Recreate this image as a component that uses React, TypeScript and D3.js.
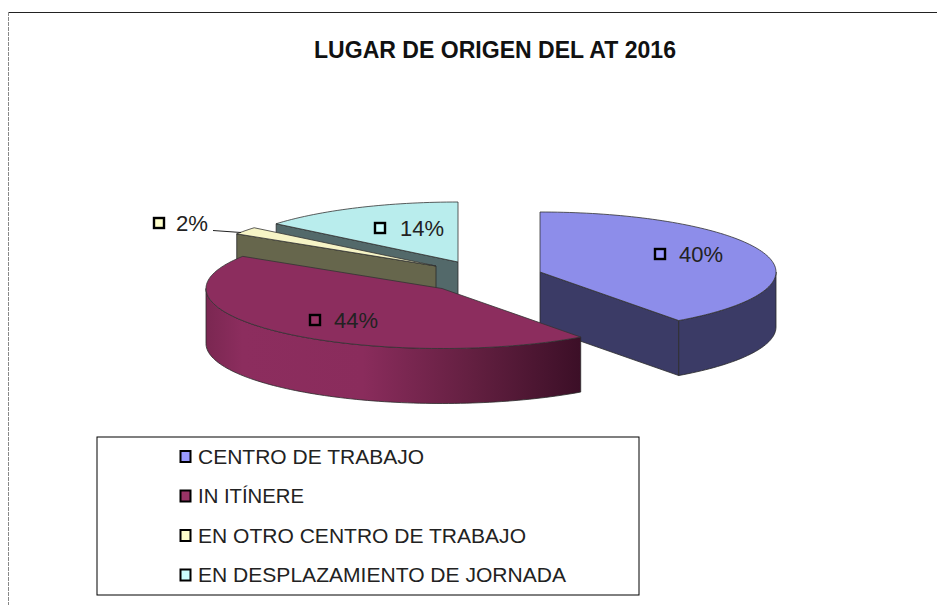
import React from "react";
import * as d3 from "d3";

const categories = ["CENTRO DE TRABAJO", "IN ITÍNERE", "EN OTRO CENTRO DE TRABAJO", "EN DESPLAZAMIENTO DE JORNADA"];
const values = [40, 44, 2, 14];
const labels = ["40%", "44%", "2%", "14%"];
const legendColors = ["#9999ff", "#993366", "#ffffcc", "#ccffff"];
const topColors = ["#8d8dea", "#8c2d5e", "#f6f4c6", "#b9eded"];
const sideColors = ["#3b3b66", "url(#redSide)", "#66664c", "#53696a"];
const title = "LUGAR DE ORIGEN DEL AT 2016";

const RX = 236, RY = 60, DEPTH = 55;
const centers: [number, number][] = [[540, 272], [442, 288.5], [436, 266], [458, 262]];
const labelPos: [number, number][] = [[660, 254], [315, 320], [159, 223], [380, 228]];
const labelTextX = [679, 334, 176, 400];
const legendTextLen = [226, 106, 328, 368];
const drawOrder = [3, 2, 0, 1];
const legendRowY = d3.scaleLinear().domain([0, 3]).range([456.5, 575]);

const pieGen = d3.pie<number>().sort(null);
const arcs = pieGen(values);
const lineGen = d3.line();

function project(c: [number, number], a: number, dz = 0): [number, number] {
  return [c[0] + RX * Math.sin(a), c[1] - RY * Math.cos(a) + dz];
}
function rim(c: [number, number], a0: number, a1: number, dz = 0) {
  const n = Math.max(2, Math.ceil(Math.abs(a1 - a0) * 40));
  const step = d3.scaleLinear().domain([0, n]).range([a0, a1]);
  return d3.range(n + 1).map((i) => project(c, step(i), dz));
}
const HALF = Math.PI / 2;

function Slice({ i }: { i: number }) {
  const c = centers[i];
  const { startAngle: s, endAngle: e } = arcs[i];
  const stroke = "#2a2a2a";
  const faces: React.ReactNode[] = [];
  for (const [a, normal] of [[s, s - HALF], [e, e + HALF]] as [number, number][]) {
    if (Math.cos(normal) < -1e-6) {
      const p = project(c, a);
      const quad: [number, number][] = [c, p, [p[0], p[1] + DEPTH], [c[0], c[1] + DEPTH]];
      faces.push(<path key={a} d={lineGen(quad) + "Z"} fill={sideColors[i]} stroke={stroke} strokeWidth={0.8} />);
    }
  }
  const a0 = Math.max(s, HALF), a1 = Math.min(e, 3 * HALF);
  if (a1 > a0) {
    const pts = [...rim(c, a0, a1), ...rim(c, a1, a0, DEPTH)];
    faces.push(<path key="outer" d={lineGen(pts) + "Z"} fill={sideColors[i]} stroke={stroke} strokeWidth={0.8} />);
  }
  const top = [c, ...rim(c, s, e)];
  return (
    <g>
      {faces}
      <path d={lineGen(top) + "Z"} fill={topColors[i]} stroke="#333" strokeWidth={0.8} strokeLinejoin="round" />
    </g>
  );
}

export default function App() {
  const font = "'Liberation Sans', Arial, sans-serif";
  return (
    <svg width={937} height={605} style={{ position: "absolute", left: 0, top: 0, background: "#fff" }}>
      <defs>
        <linearGradient id="redSide" gradientUnits="userSpaceOnUse" x1={205} x2={580} y1={0} y2={0}>
          <stop offset="0" stopColor="#7a2751" />
          <stop offset="0.1" stopColor="#8c2d5e" />
          <stop offset="0.42" stopColor="#8a2c5c" />
          <stop offset="0.72" stopColor="#621f40" />
          <stop offset="1" stopColor="#3c0f27" />
        </linearGradient>
      </defs>
      <line x1={8} x2={937} y1={12.5} y2={12.5} stroke="#222" strokeWidth={1} />
      <line x1={8.5} x2={8.5} y1={12} y2={605} stroke="#888" strokeWidth={1} strokeDasharray="4 1" />
      <text x={314} y={58} fontFamily={font} fontWeight="bold" fontSize={23} fill="#111" textLength={362} lengthAdjust="spacingAndGlyphs">{title}</text>

      {drawOrder.map((i) => <Slice key={i} i={i} />)}

      <line x1={213} x2={241} y1={230.5} y2={232.5} stroke="#222" strokeWidth={1} />
      {labels.map((t, i) => (
        <g key={t}>
          <rect x={labelPos[i][0] - 5} y={labelPos[i][1] - 5} width={10} height={10} fill={legendColors[i]} stroke="#000" strokeWidth={2.4} />
          <text x={labelTextX[i]} y={labelPos[i][1]} dy="0.36em" fontFamily={font} fontSize={22} fill="#222" textLength={t.length === 3 ? 44 : 32} lengthAdjust="spacingAndGlyphs">{t}</text>
        </g>
      ))}

      <rect x={97} y={437} width={542} height={158} fill="none" stroke="#000" strokeWidth={1} />
      {categories.map((t, i) => {
        const y = legendRowY(i);
        return (
          <g key={t}>
            <rect x={180.5} y={y - 5.5} width={10} height={11} fill={legendColors[i]} stroke="#000" strokeWidth={2} />
            <text x={198} y={y} dy="0.36em" fontFamily={font} fontSize={20} fill="#222" textLength={legendTextLen[i]} lengthAdjust="spacingAndGlyphs">{t}</text>
          </g>
        );
      })}
    </svg>
  );
}
